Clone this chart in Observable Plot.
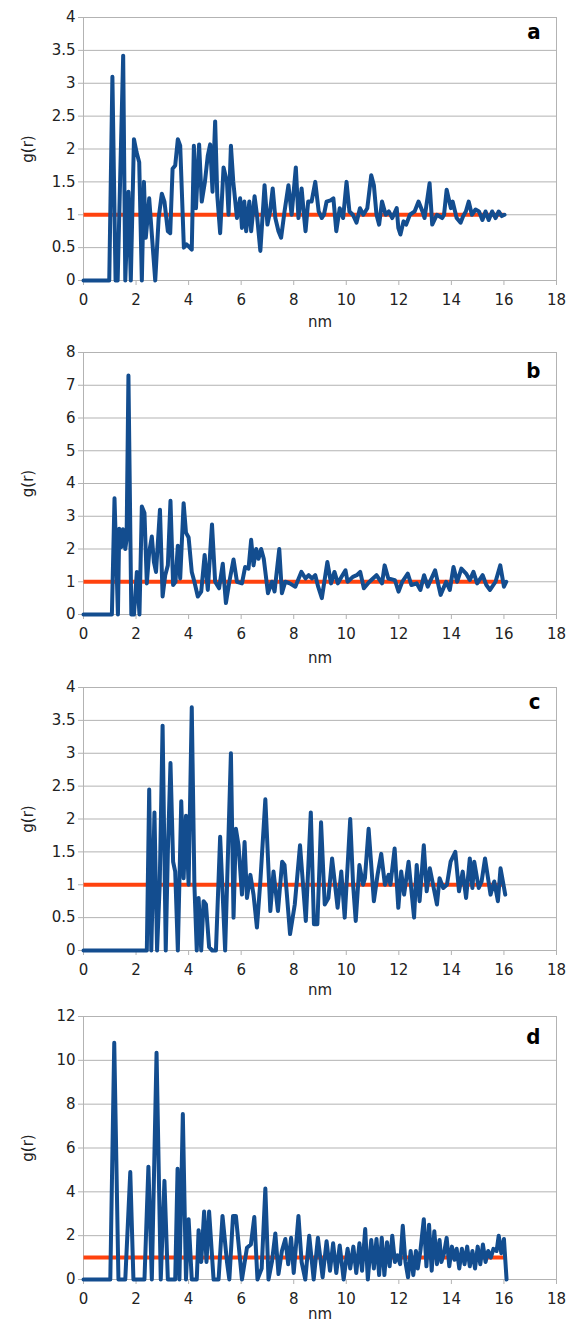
<!DOCTYPE html>
<html><head><meta charset="utf-8">
<script src="https://cdn.jsdelivr.net/npm/d3@7"></script>
<script src="https://cdn.jsdelivr.net/npm/@observablehq/plot@0.6"></script>
<style>
body{margin:0;background:#fff;}
#chart svg{display:block;overflow:visible;}
</style></head><body><div id="chart"></div>
<script>
// g(r) traces: [nm, g(r)]
const panelA = [[0,0],[0.98,0],[1.10,3.1],[1.22,0],[1.30,0],[1.51,3.42],[1.59,0],[1.71,1.35],[1.80,0],[1.92,2.15],[2.02,1.95],[2.12,1.8],[2.22,0],[2.30,1.5],[2.37,0.65],[2.45,1.0],[2.50,1.25],[2.60,0.7],[2.73,0],[2.86,0.95],[2.98,1.32],[3.08,1.2],[3.21,0.75],[3.30,0.72],[3.39,1.7],[3.49,1.75],[3.59,2.15],[3.68,2.05],[3.82,0.5],[3.92,0.55],[4.00,0.52],[4.12,0.47],[4.20,2.05],[4.28,1.1],[4.40,2.07],[4.50,1.2],[4.62,1.5],[4.73,1.9],[4.82,2.07],[4.91,1.35],[5.01,2.42],[5.09,1.3],[5.20,0.72],[5.33,1.72],[5.46,1.5],[5.52,1.0],[5.61,2.05],[5.70,1.5],[5.84,0.95],[5.96,1.25],[6.03,0.8],[6.12,1.2],[6.19,0.75],[6.31,1.2],[6.38,0.75],[6.51,1.28],[6.60,1.0],[6.73,0.45],[6.89,1.45],[7.00,0.85],[7.10,1.05],[7.20,1.4],[7.30,0.95],[7.42,0.75],[7.52,0.65],[7.65,1.05],[7.80,1.45],[7.92,1.0],[8.08,1.72],[8.18,0.95],[8.30,1.4],[8.40,0.95],[8.45,0.75],[8.55,1.2],[8.68,1.2],[8.82,1.5],[8.95,1.05],[9.07,0.95],[9.15,1.0],[9.25,1.2],[9.40,1.22],[9.51,1.25],[9.62,0.75],[9.75,1.1],[9.88,0.95],[10.01,1.5],[10.12,1.05],[10.25,1.0],[10.39,0.88],[10.52,1.1],[10.65,1.0],[10.80,1.1],[10.95,1.6],[11.05,1.45],[11.15,1.0],[11.25,0.85],[11.36,1.2],[11.50,1.0],[11.62,1.05],[11.75,0.95],[11.92,1.1],[11.98,0.8],[12.06,0.7],[12.18,0.9],[12.28,0.85],[12.42,1.0],[12.60,1.05],[12.75,1.2],[12.90,1.05],[12.98,0.95],[13.17,1.48],[13.27,0.85],[13.45,1.0],[13.65,0.95],[13.72,1.0],[13.82,1.38],[13.98,1.1],[14.05,1.2],[14.20,0.95],[14.35,0.88],[14.45,0.98],[14.55,1.05],[14.66,1.2],[14.78,1.0],[14.92,1.08],[15.05,1.05],[15.18,0.92],[15.30,1.05],[15.42,0.92],[15.55,1.05],[15.68,0.95],[15.80,1.05],[15.92,0.98],[16.02,1.0]];

const panelB = [[0,0],[1.08,0],[1.18,3.55],[1.31,0],[1.36,2.62],[1.43,2.05],[1.50,2.6],[1.59,2.0],[1.64,2.3],[1.71,7.3],[1.82,0],[1.92,0],[2.03,1.3],[2.13,0],[2.22,3.3],[2.32,3.1],[2.41,0.95],[2.50,1.9],[2.60,2.38],[2.68,1.6],[2.76,1.3],[2.91,3.2],[3.01,0.55],[3.11,1.2],[3.21,1.5],[3.31,3.47],[3.41,0.9],[3.50,1.0],[3.59,2.1],[3.68,1.1],[3.81,3.4],[3.90,2.5],[4.00,2.35],[4.12,1.3],[4.22,1.0],[4.35,0.55],[4.48,0.7],[4.61,1.82],[4.73,0.75],[4.89,2.75],[5.01,1.0],[5.16,0.8],[5.30,1.55],[5.42,0.35],[5.55,1.0],[5.71,1.68],[5.84,1.0],[6.03,0.95],[6.15,1.45],[6.28,1.4],[6.38,2.28],[6.47,1.5],[6.57,2.0],[6.66,1.7],[6.76,2.0],[6.86,1.7],[7.02,0.65],[7.17,1.0],[7.27,0.7],[7.45,2.0],[7.55,0.65],[7.68,1.0],[7.85,0.95],[8.06,0.85],[8.29,1.3],[8.45,1.1],[8.57,1.2],[8.70,1.1],[8.82,1.2],[8.93,0.85],[9.07,0.5],[9.28,1.6],[9.42,0.95],[9.55,1.3],[9.68,0.95],[9.82,1.15],[9.97,1.35],[10.05,1.0],[10.25,1.15],[10.40,1.2],[10.53,1.3],[10.67,0.8],[10.88,1.0],[11.15,1.2],[11.36,0.95],[11.46,1.5],[11.60,1.1],[11.85,1.05],[11.99,0.7],[12.13,1.0],[12.34,1.25],[12.48,0.9],[12.68,0.95],[12.82,0.75],[12.96,1.2],[13.10,0.85],[13.38,1.35],[13.59,0.6],[13.80,1.0],[13.94,0.75],[14.08,1.45],[14.22,1.0],[14.38,1.4],[14.56,1.25],[14.70,1.05],[14.84,1.3],[14.98,0.95],[15.19,1.2],[15.33,0.9],[15.47,0.75],[15.68,1.0],[15.86,1.5],[16.0,0.85],[16.09,1.0]];

const panelC = [[0,0],[2.41,0],[2.50,2.45],[2.58,0],[2.70,2.1],[2.80,0],[2.90,1.0],[3.01,3.42],[3.13,0],[3.21,1.5],[3.31,2.85],[3.41,1.35],[3.49,1.2],[3.59,0],[3.72,2.27],[3.81,1.1],[3.90,2.05],[4.00,1.0],[4.12,3.7],[4.22,1.0],[4.31,0],[4.38,0.8],[4.48,0],[4.57,0.75],[4.66,0.7],[4.78,0.05],[4.90,0],[5.04,0],[5.20,1.73],[5.39,0],[5.61,3.0],[5.71,0.5],[5.80,1.85],[5.90,1.6],[6.03,0.85],[6.13,1.65],[6.22,0.8],[6.35,1.15],[6.47,0.85],[6.60,0.35],[6.73,1.05],[6.92,2.3],[7.11,0.6],[7.23,1.2],[7.40,0.6],[7.56,1.35],[7.65,1.3],[7.86,0.25],[8.04,0.7],[8.24,1.6],[8.46,0.45],[8.65,2.1],[8.77,0.4],[8.90,0.4],[9.04,1.95],[9.18,0.7],[9.32,0.8],[9.46,1.4],[9.67,0.65],[9.81,1.2],[9.94,0.5],[10.15,2.0],[10.26,1.0],[10.36,0.45],[10.50,1.3],[10.64,1.0],[10.71,1.1],[10.85,1.85],[11.05,0.75],[11.19,1.15],[11.33,1.47],[11.47,1.0],[11.61,1.15],[11.68,1.0],[11.84,1.55],[11.98,0.65],[12.09,1.2],[12.20,0.85],[12.37,1.35],[12.58,0.5],[12.68,1.3],[12.79,0.75],[12.95,1.6],[13.06,0.9],[13.18,1.25],[13.45,0.7],[13.55,1.1],[13.69,0.95],[13.83,1.0],[13.97,1.35],[14.15,1.5],[14.29,0.9],[14.43,1.2],[14.56,0.8],[14.70,1.4],[14.80,0.95],[14.87,1.35],[15.04,0.95],[15.15,1.05],[15.28,1.4],[15.49,0.85],[15.63,1.05],[15.77,0.75],[15.87,1.25],[16.05,0.85]];

const panelD = [[0,0],[1.02,0],[1.17,10.8],[1.33,0],[1.59,0],[1.78,4.9],[1.90,0],[2.32,0],[2.47,5.15],[2.60,0],[2.78,10.35],[2.94,0],[3.08,4.5],[3.21,0],[3.49,0],[3.58,5.05],[3.65,0],[3.78,7.55],[3.90,0],[4.00,2.75],[4.12,0],[4.31,0],[4.38,2.25],[4.48,0.8],[4.59,3.1],[4.68,0.8],[4.78,3.1],[4.95,0],[5.14,0],[5.29,2.9],[5.46,0.8],[5.55,0],[5.69,2.9],[5.80,2.9],[6.03,0],[6.22,1.45],[6.37,1.6],[6.50,2.85],[6.62,0],[6.78,0.5],[6.92,4.15],[7.04,0],[7.17,0.8],[7.30,2.1],[7.42,0.25],[7.55,1.3],[7.68,1.85],[7.79,0.7],[7.90,1.9],[8.00,0.3],[8.18,2.9],[8.30,0.8],[8.44,0],[8.59,2.0],[8.76,0],[8.92,1.9],[9.10,0.1],[9.25,1.75],[9.38,0.4],[9.50,1.65],[9.62,0.3],[9.75,1.55],[9.90,0],[10.05,1.4],[10.15,0.5],[10.27,1.5],[10.38,0.3],[10.50,1.65],[10.60,0.4],[10.72,2.3],[10.82,0],[10.95,1.8],[11.05,0.5],[11.15,1.85],[11.25,0.2],[11.35,1.9],[11.45,0.2],[11.55,1.7],[11.65,0.6],[11.75,2.0],[11.85,0.8],[11.95,1.1],[12.05,0.7],[12.15,2.45],[12.25,0.8],[12.35,0.1],[12.45,1.3],[12.55,0.2],[12.65,1.3],[12.72,0.5],[12.82,1.3],[12.95,2.75],[13.05,0.6],[13.15,2.5],[13.25,0.4],[13.35,2.2],[13.45,0.7],[13.55,1.8],[13.62,0.8],[13.72,1.2],[13.82,1.9],[13.92,0.6],[14.02,1.5],[14.12,0.9],[14.20,1.4],[14.30,0.5],[14.40,1.4],[14.50,0.7],[14.60,1.5],[14.70,0.6],[14.80,1.3],[14.90,0.5],[15.00,1.5],[15.10,0.7],[15.20,1.6],[15.30,0.8],[15.40,1.3],[15.50,1.0],[15.60,1.4],[15.72,1.3],[15.80,2.0],[15.90,1.2],[16.00,1.85],[16.10,0]];

// reference line g(r) = 1
const refX = [0, 16];
const refY = 1;

const panelLabels = ["a", "b", "c", "d"];
const xTicks = [0, 2, 4, 6, 8, 10, 12, 14, 16, 18];
const yTicksA = [0, 0.5, 1, 1.5, 2, 2.5, 3, 3.5, 4];
const yTicksB = [0, 1, 2, 3, 4, 5, 6, 7, 8];
const yTicksC = [0, 0.5, 1, 1.5, 2, 2.5, 3, 3.5, 4];
const yTicksD = [0, 2, 4, 6, 8, 10, 12];
const xTitle = "nm";
const yTitle = "g(r)";

const refLine = refX.map(x => ({x, y: refY}));

const panels = [
  {label: panelLabels[0], data: panelA, ticks: yTicksA, height: 330, mt: 17, mb: 50, ldy: 21, nmdy: 42},
  {label: panelLabels[1], data: panelB, ticks: yTicksB, height: 330, mt: 22, mb: 46, ldy: 25, nmdy: 44},
  {label: panelLabels[2], data: panelC, ticks: yTicksC, height: 330, mt: 27, mb: 40, ldy: 21, nmdy: 40},
  {label: panelLabels[3], data: panelD, ticks: yTicksD, height: 332, mt: 26, mb: 43, ldy: 27, nmdy: 35}
];

const grid = "#b3b3b3";
const ink = "#222";

for (const p of panels) {
  const yMax = p.ticks[p.ticks.length - 1];
  const svg = Plot.plot({
    width: 570, height: p.height,
    marginLeft: 83, marginRight: 14, marginTop: p.mt, marginBottom: p.mb,
    style: {fontFamily: "DejaVu Sans", fontSize: "15px", background: "transparent", overflow: "visible", color: ink},
    x: {domain: [0, 18]},
    y: {domain: [0, yMax]},
    marks: [
      Plot.ruleY(p.ticks, {stroke: grid, strokeWidth: 1}),
      Plot.ruleX([0, 18], {stroke: grid, strokeWidth: 1}),
      Plot.axisX({ticks: xTicks, tickSize: 5, tickPadding: 9, stroke: grid, fill: ink, label: null, tickFormat: d => String(d)}),
      Plot.axisY({ticks: p.ticks, tickSize: 5, tickPadding: 3, stroke: grid, fill: ink, label: null, tickFormat: d => String(d)}),
      Plot.line(refLine, {x: "x", y: "y", stroke: "#ff420e", strokeWidth: 4, strokeLinecap: "butt"}),
      Plot.line(p.data, {x: d => d[0], y: d => d[1], stroke: "#134d8f", strokeWidth: 4}),
      Plot.text([p.label], {frameAnchor: "top-right", dx: -16, dy: p.ldy, textAnchor: "end", lineAnchor: "bottom", fontWeight: "bold", fontSize: 22, fontFamily: "DejaVu Sans Condensed, DejaVu Sans", fill: "#000"}),
      Plot.text([xTitle], {frameAnchor: "bottom", dy: p.nmdy, textAnchor: "middle", lineAnchor: "middle", fill: ink}),
      Plot.text([yTitle], {frameAnchor: "left", dx: -55, rotate: -90, textAnchor: "middle", lineAnchor: "middle", fill: ink})
    ]
  });
  document.getElementById("chart").append(svg);
}
</script></body></html>
